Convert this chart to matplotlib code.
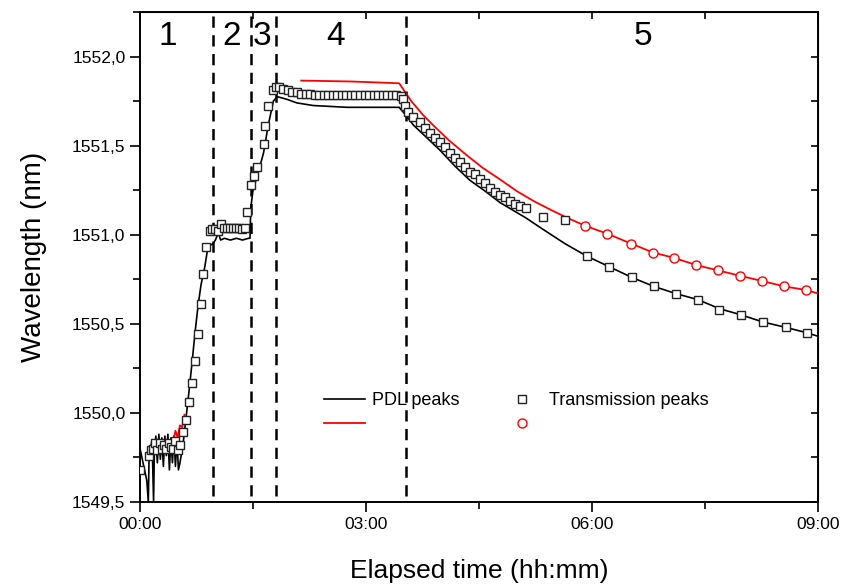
import numpy as np
import matplotlib
matplotlib.use("Agg")
import matplotlib.pyplot as plt
from matplotlib.ticker import MultipleLocator, FuncFormatter

plt.rcParams['font.family'] = ['Liberation Sans', 'DejaVu Sans']

# PDL peaks (black line): time in hours, wavelength in nm
pdl_t = [0.00, 0.09, 0.11, 0.12, 0.14, 0.16, 0.18, 0.19, 0.21, 0.23, 0.25, 0.27,
         0.29, 0.31, 0.33, 0.35, 0.37, 0.39, 0.41, 0.43, 0.45, 0.47, 0.49, 0.51,
         0.53, 0.57, 0.61, 0.65, 0.69, 0.73, 0.77, 0.81, 0.86, 0.89, 0.93, 0.97,
         1.00, 1.04, 1.07, 1.12, 1.20, 1.28, 1.36, 1.44, 1.46, 1.47, 1.50, 1.57,
         1.64, 1.70, 1.77, 1.82, 1.95, 2.08, 2.30, 2.75, 3.44, 3.53, 3.63, 3.78,
         3.98, 4.18, 4.38, 4.58, 4.78, 4.98, 5.12, 5.35, 5.64, 5.93, 6.23, 6.53,
         6.82, 7.11, 7.41, 7.69, 7.98, 8.27, 8.57, 8.85, 9.00]
pdl_w = [1549.80, 1549.62, 1549.50, 1549.75, 1549.80, 1549.85, 1549.50, 1549.78,
         1549.87, 1549.72, 1549.88, 1549.74, 1549.86, 1549.70, 1549.87, 1549.76,
         1549.88, 1549.68, 1549.86, 1549.72, 1549.87, 1549.70, 1549.85, 1549.68,
         1549.72, 1549.82, 1549.97, 1550.12, 1550.28, 1550.45, 1550.60, 1550.72,
         1550.82, 1550.90, 1550.94, 1550.95, 1550.97, 1551.01, 1550.97, 1550.98,
         1550.97, 1550.98, 1550.97, 1550.98, 1550.98, 1551.15, 1551.25, 1551.35,
         1551.46, 1551.61, 1551.75, 1551.775, 1551.76, 1551.74, 1551.725, 1551.715,
         1551.715, 1551.67, 1551.615, 1551.555, 1551.475, 1551.385, 1551.305,
         1551.245, 1551.18, 1551.13, 1551.095, 1551.03, 1550.95, 1550.88, 1550.82,
         1550.76, 1550.71, 1550.67, 1550.635, 1550.585, 1550.55, 1550.51, 1550.48,
         1550.45, 1550.43]

# red line (second PDL series)
red_t = [0.45, 0.47, 0.50, 0.53, 0.56, 0.59]
red_w = [1549.86, 1549.90, 1549.86, 1549.93, 1549.92, 1549.99]
red2_t = [2.14, 2.80, 3.44, 3.60, 3.75, 3.89, 4.10, 4.34, 4.55, 4.78, 5.00, 5.22,
          5.45, 5.67, 5.91, 6.20, 6.52, 6.81, 7.09, 7.38, 7.67, 7.96, 8.26, 8.55,
          8.84, 9.00]
red2_w = [1551.865, 1551.86, 1551.85, 1551.75, 1551.675, 1551.615, 1551.53,
          1551.445, 1551.375, 1551.31, 1551.245, 1551.19, 1551.14, 1551.095,
          1551.05, 1551.006, 1550.95, 1550.90, 1550.87, 1550.83, 1550.80, 1550.77,
          1550.74, 1550.71, 1550.69, 1550.67]

# Transmission peaks (open squares)
sq_t = [0.00, 0.12, 0.14, 0.17, 0.20, 0.23, 0.26, 0.29, 0.32, 0.35, 0.38, 0.41,
        0.44, 0.47, 0.50, 0.53, 0.57, 0.61, 0.65, 0.69, 0.73, 0.77, 0.81, 0.84,
        0.88, 0.93, 0.96, 1.00, 1.03, 1.07, 1.11, 1.15, 1.19, 1.23, 1.27, 1.31,
        1.35, 1.39, 1.42, 1.47, 1.51, 1.55, 1.64, 1.66, 1.70, 1.76, 1.80,
        1.84, 1.90, 1.96, 2.02, 2.08, 2.14, 2.20, 2.26, 2.32, 2.38, 2.44, 2.50,
        2.56, 2.62, 2.68, 2.74, 2.80, 2.86, 2.92, 2.98, 3.04, 3.10, 3.16, 3.22,
        3.28, 3.34, 3.40, 3.46, 3.49, 3.52, 3.56, 3.63, 3.72, 3.78, 3.85, 3.92,
        3.98, 4.05, 4.12, 4.18, 4.25, 4.31, 4.38, 4.45, 4.51, 4.58, 4.65, 4.71,
        4.78, 4.85, 4.91, 4.98, 5.04, 5.12, 5.35, 5.64, 5.93, 6.23, 6.53, 6.82,
        7.11, 7.41, 7.69, 7.98, 8.27, 8.57, 8.85]
sq_w = [1549.68, 1549.76, 1549.79, 1549.80, 1549.83, 1549.79, 1549.83, 1549.80,
        1549.82, 1549.80, 1549.83, 1549.81, 1549.80, 1549.84, 1549.79, 1549.82,
        1549.89, 1549.96, 1550.06, 1550.17, 1550.29, 1550.44, 1550.61, 1550.78,
        1550.93, 1551.02, 1551.03, 1551.03, 1551.02, 1551.06, 1551.04, 1551.04,
        1551.04, 1551.04, 1551.04, 1551.04, 1551.03, 1551.04, 1551.13, 1551.28,
        1551.33, 1551.38, 1551.51, 1551.61, 1551.72, 1551.81, 1551.83,
        1551.83, 1551.82, 1551.81, 1551.80, 1551.80, 1551.79, 1551.79, 1551.79,
        1551.785, 1551.785, 1551.785, 1551.785, 1551.785, 1551.785, 1551.785,
        1551.785, 1551.785, 1551.785, 1551.785, 1551.785, 1551.785, 1551.785,
        1551.785, 1551.785, 1551.785, 1551.785, 1551.785, 1551.78, 1551.76,
        1551.72, 1551.69, 1551.66, 1551.63, 1551.60, 1551.57, 1551.545, 1551.52,
        1551.49, 1551.46, 1551.43, 1551.41, 1551.38, 1551.35, 1551.34, 1551.31,
        1551.29, 1551.26, 1551.24, 1551.225, 1551.21, 1551.19, 1551.175, 1551.16,
        1551.15, 1551.10, 1551.08, 1550.88, 1550.82, 1550.76, 1550.71, 1550.67,
        1550.635, 1550.58, 1550.55, 1550.51, 1550.48, 1550.45]

# red circles
circ_t = [5.91, 6.20, 6.52, 6.81, 7.09, 7.38, 7.67, 7.96, 8.26, 8.55, 8.84]
circ_w = [1551.05, 1551.006, 1550.95, 1550.90, 1550.87, 1550.83, 1550.80, 1550.77,
          1550.74, 1550.71, 1550.69]

# stage boundaries (hours) and labels
bounds = [0.97, 1.47, 1.81, 3.53]
stage_labels = ["1", "2", "3", "4", "5"]
stage_pos = [0.37, 1.21, 1.62, 2.60, 6.68]

fig = plt.figure(figsize=(8.42, 5.88), dpi=100)
ax = fig.add_axes([0.1663, 0.1463, 0.8052, 0.8333])

ax.plot(pdl_t, pdl_w, color="black", lw=1.2, label="PDL peaks", zorder=3)
ax.plot(red_t, red_w, color="red", lw=1.3, zorder=3)
ax.plot(red2_t, red2_w, color="red", lw=1.3, zorder=3)
ax.plot(sq_t, sq_w, ls="none", marker="s", ms=5.5, mfc="white", mec="#222222",
        mew=1.0, zorder=4)
ax.plot(circ_t, circ_w, ls="none", marker="o", ms=6.5, mfc="white", mec="red",
        mew=1.0, zorder=4)

for b in bounds:
    ax.axvline(b, ymin=0.012, ymax=1.0, color="black", lw=1.8, ls=(0, (4.5, 3)), zorder=2)

for s, p in zip(stage_labels, stage_pos):
    ax.text(p, 1552.11, s, ha="center", va="center", fontsize=24)

ax.set_xlim(0, 9)
ax.set_ylim(1549.5, 1552.25)
ax.xaxis.set_major_locator(MultipleLocator(3))
ax.xaxis.set_minor_locator(MultipleLocator(1.5))
ax.yaxis.set_major_locator(MultipleLocator(0.5))
ax.yaxis.set_minor_locator(MultipleLocator(0.25))
ax.xaxis.set_major_formatter(FuncFormatter(lambda v, p: "%02d:00" % int(round(v))))
ax.yaxis.set_major_formatter(FuncFormatter(lambda v, p: ("%.1f" % v).replace(".", ",")))
ax.tick_params(which="both", direction="out", width=1.2, labelsize=12.5)
ax.tick_params(which="major", length=7)
ax.tick_params(which="minor", length=5)
for sp in ax.spines.values():
    sp.set_linewidth(1.4)

top = ax.secondary_xaxis("top")
top.xaxis.set_major_locator(MultipleLocator(3))
top.xaxis.set_minor_locator(MultipleLocator(1.5))
top.tick_params(which="both", direction="in", labeltop=False, width=1.2, length=5)
right = ax.secondary_yaxis("right")
right.yaxis.set_major_locator(MultipleLocator(0.5))
right.yaxis.set_minor_locator(MultipleLocator(0.25))
right.tick_params(which="both", direction="in", labelright=False, width=1.2, length=5)

ax.set_xlabel("Elapsed time (hh:mm)", fontsize=19, labelpad=20)
ax.set_ylabel("Wavelength (nm)", fontsize=20, labelpad=18)

h_pdl, = ax.plot([], [], color="black", lw=1.2)
h_red, = ax.plot([], [], color="red", lw=1.3)
h_sq, = ax.plot([], [], ls="none", marker="s", ms=5.5, mfc="white", mec="#222222", mew=1.0)
h_ci, = ax.plot([], [], ls="none", marker="o", ms=6.5, mfc="white", mec="red", mew=1.0)
ax.legend([h_pdl, h_red, h_sq, h_ci], ["PDL peaks", "", "Transmission peaks", ""],
          ncol=2, frameon=False, loc="upper left", bbox_to_anchor=(0.258, 0.243),
          fontsize=13, handlelength=2.3, handletextpad=0.35, columnspacing=2.3,
          labelspacing=0.42, borderpad=0)

fig.savefig("out.png", dpi=100)
